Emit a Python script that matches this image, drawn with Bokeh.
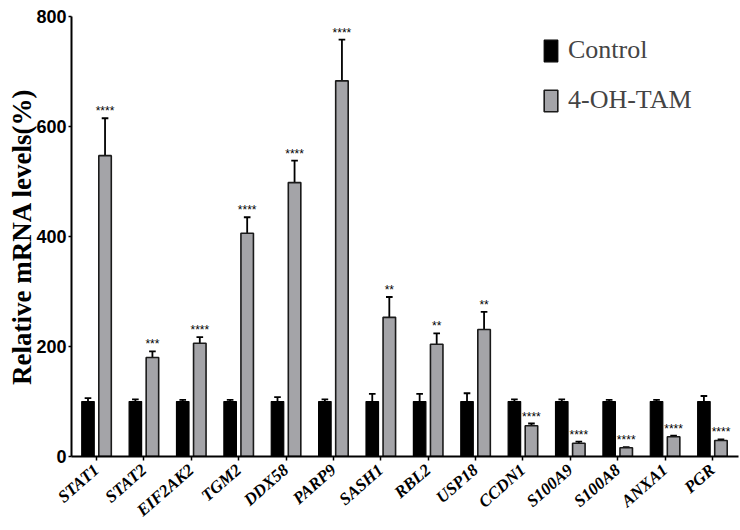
import numpy as np
from bokeh.plotting import figure
from bokeh.models import ColumnDataSource, FixedTicker, Range1d, Legend, LegendItem
from bokeh.core.properties import value
from bokeh.embed import file_html
from bokeh.resources import INLINE

genes = ["STAT1", "STAT2", "EIF2AK2", "TGM2", "DDX58", "PARP9", "SASH1",
         "RBL2", "USP18", "CCDN1", "S100A9", "S100A8", "ANXA1", "PGR"]
control = [100, 100, 100, 100, 100, 100, 100, 100, 100, 100, 100, 100, 100, 100]
control_err = [106, 104, 103, 103, 108, 104, 114, 114, 115, 104, 104, 103, 103, 110]
tam = [547, 180, 206, 406, 498, 683, 253, 204, 231, 56, 24, 16, 36, 29]
tam_err = [615, 191, 217, 435, 538, 758, 290, 224, 263, 60, 27, 17, 38, 31]
stars = ["****", "***", "****", "****", "****", "****", "**", "**", "**",
         "****", "****", "****", "****", "****"]
y_ticks = [0, 200, 400, 600, 800]

n = len(genes)
idx = np.arange(n)
off = 0.18
bw = 0.264
cap = 0.07

src_c = ColumnDataSource(dict(x=idx - off, top=control, err=control_err))
src_t = ColumnDataSource(dict(x=idx + off, top=tam, err=tam_err, stars=stars))

p = figure(width=740, height=530, output_backend="svg", toolbar_location=None,
           x_range=Range1d(-0.528, 13.55), y_range=Range1d(0, 800),
           min_border_left=71, min_border_right=2, min_border_top=16, min_border_bottom=71)
p.outline_line_color = None
p.xgrid.grid_line_color = None
p.ygrid.grid_line_color = None

# error bars (upward only)
for s in (src_c, src_t):
    p.segment(x0="x", y0="top", x1="x", y1="err", source=s, line_color="black", line_width=1.8)

cap_c = ColumnDataSource(dict(x0=idx - off - cap, x1=idx - off + cap, y=control_err))
cap_t = ColumnDataSource(dict(x0=idx + off - cap, x1=idx + off + cap, y=tam_err))
for s in (cap_c, cap_t):
    p.segment(x0="x0", y0="y", x1="x1", y1="y", source=s, line_color="black", line_width=1.8)

r1 = p.vbar(x="x", top="top", width=bw, source=src_c, fill_color="black", line_color="black",
            line_width=1.2)
r2 = p.vbar(x="x", top="top", width=bw, source=src_t, fill_color="#a4a4a8", line_color="#1a1a1a",
            line_width=1.6)

p.text(x="x", y="err", text="stars", source=src_t, text_align="center", text_baseline="bottom",
       text_font=value("Liberation Sans"), text_font_size="12px", text_color="black")

# x axis
p.xaxis.ticker = FixedTicker(ticks=list(idx))
p.xaxis.major_label_overrides = {int(i): g for i, g in zip(idx, genes)}
p.xaxis.major_label_orientation = 0.72
p.xaxis.major_label_text_font = "Liberation Serif"
p.xaxis.major_label_text_font_style = "bold italic"
p.xaxis.major_label_text_font_size = "17px"
p.xaxis.major_label_text_color = "black"
p.xaxis.major_label_standoff = 7
p.xaxis.minor_tick_line_color = None
p.xaxis.major_tick_in = 0
p.xaxis.major_tick_out = 4
p.xaxis.axis_line_width = 2
p.xaxis.major_tick_line_width = 1.5

# y axis
p.yaxis.ticker = FixedTicker(ticks=y_ticks)
p.yaxis.minor_tick_line_color = None
p.yaxis.major_tick_in = 0
p.yaxis.major_tick_out = 3
p.yaxis.axis_line_width = 2
p.yaxis.major_tick_line_width = 1.5
p.yaxis.major_label_text_font = "Liberation Sans"
p.yaxis.major_label_text_font_style = "bold"
p.yaxis.major_label_text_font_size = "18px"
p.yaxis.major_label_text_color = "black"
p.yaxis.major_label_standoff = 2
p.yaxis.axis_label = "Relative mRNA levels(%)"
p.yaxis.axis_label_text_font = "Liberation Serif"
p.yaxis.axis_label_text_font_style = "bold"
p.yaxis.axis_label_text_font_size = "27px"
p.yaxis.axis_label_text_color = "black"
p.yaxis.axis_label_standoff = -4

legend = Legend(items=[LegendItem(label="Control", renderers=[r1]),
                       LegendItem(label="4-OH-TAM", renderers=[r2])],
                location=(471, 341), glyph_width=17, glyph_height=27, label_height=27,
                spacing=20, padding=0, margin=0, label_standoff=9,
                label_text_font="Liberation Serif", label_text_font_size="26px",
                border_line_color=None, background_fill_alpha=0)
p.add_layout(legend)

open("out.html", "w").write(file_html(p, INLINE))
